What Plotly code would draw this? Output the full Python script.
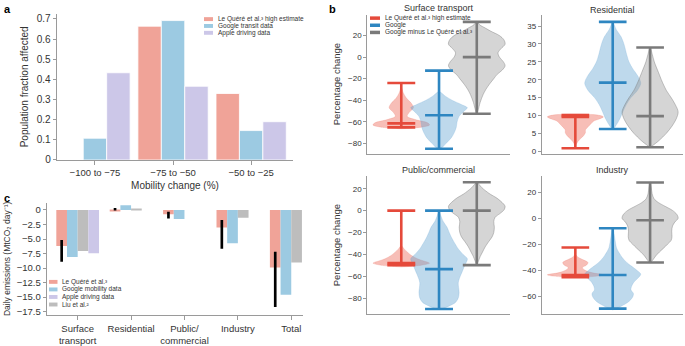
import plotly.graph_objects as go

W, H = 685, 346

# ---------------- panel a data ----------------
mobility_bins = ["−100 to −75", "−75 to −50", "−50 to −25"]
a_lequere = [None, 0.664, 0.330]
a_google = [0.108, 0.692, 0.146]
a_apple = [0.433, 0.366, 0.190]
a_names = ["Le Quéré et al.³ high estimate", "Google transit data", "Apple driving data"]

# ---------------- panel c data ----------------
sectors = ["Surface<br>transport", "Residential", "Public/<br>commercial", "Industry", "Total"]
c_lequere = [-6.2, -0.1, -0.75, -3.03, -9.9]
c_google = [-8.1, 0.8, -1.55, -5.72, -14.6]
c_liu = [-7.07, 0.1, None, -1.35, -9.05]
c_apple = [-7.45, None, None, None, None]
c_lequere_low = [-8.9, 0.05, -1.45, -6.67, -16.7]
c_lequere_high = [-5.15, 0.35, -0.3, -1.73, -7.2]
c_names = ["Le Quéré et al.³", "Google mobility data", "Apple driving data", "Liu et al.²"]

# ---------------- panel b data ----------------
b_titles = ["Surface transport", "Residential", "Public/commercial", "Industry"]
b_names = ["Le Quéré et al.³ high estimate", "Google", "Google minus Le Quéré et al.³"]
# (min, median, max) for Le Quéré, Google, Google minus Le Quéré
st_stats = [(-65.2, -61.5, -24.0), (-85.0, -54.0, -12.5), (-52.5, 0.0, 32.7)]
res_stats = [(0.8, 9.6, 10.1), (6.2, 19.2, 36.2), (1.1, 9.8, 29.0)]
pub_stats = [(-49.8, -48.0, 0.0), (-90.0, -53.5, 0.0), (-49.8, 0.0, 26.0)]
ind_stats = [(-45.3, -43.6, -22.5), (-69.5, -43.7, -7.7), (-34.0, -1.5, 27.5)]

# relative density profiles: (value, relative half-width)
st_red = [(-28, 0), (-33, .07), (-38, .18), (-43, .36), (-47, .43), (-51, .29), (-55, .21),
          (-58, .5), (-61, .93), (-63, 1.0), (-65, .71), (-66.5, 0)]
st_blue = [(-32, 0), (-36, .21), (-40, .46), (-44, .79), (-47, 1.0), (-50, .89), (-55, .71),
           (-60, .64), (-65, .61), (-70, .54), (-75, .43), (-80, .25), (-84, .11), (-86, 0)]
st_grey = [(33, 0), (30, .1), (27, .3), (24, .5), (20, .8), (16, .96), (12, 1.0), (8, .86), (4, .75),
           (0, .8), (-4, .93), (-8, 1.0), (-12, .9), (-16, .72), (-20, .6), (-25, .45), (-30, .32),
           (-35, .22), (-42, .12), (-50, .04), (-53, 0)]
res_red = [(10.4, 0), (10.1, .8), (9.6, 1.0), (9.0, .85), (8.4, .65), (7.6, .55), (6.8, .45),
           (6.0, .36), (5.2, .36), (4.4, .3), (3.6, .2), (2.8, .1), (2.0, .04), (1.2, 0)]
res_blue = [(36, 0), (34, .13), (32, .3), (30, .4), (27, .5), (25, .58), (23, .72), (21, .9),
            (19, 1.0), (17, .88), (15, .65), (13, .48), (11, .36), (9, .25), (7, .1), (6, 0)]
res_grey = [(29, 0), (27, .08), (25, .15), (22, .3), (20, .4), (17, .58), (15, .75), (13, .9),
            (11, 1.0), (9, .93), (7, .78), (5, .58), (3, .32), (1.5, .08), (1, 0)]
pub_red = [(-32, 0), (-35, .1), (-38, .22), (-41, .36), (-44, .57), (-46, .79), (-48, 1.0),
           (-50, .7), (-51.5, 0)]
pub_blue = [(-1, 0), (-5, .07), (-10, .15), (-15, .28), (-20, .36), (-25, .45), (-30, .56),
            (-35, .68), (-40, .85), (-44, 1.0), (-48, .95), (-52, .88), (-57, .8), (-62, .72),
            (-66, .68), (-70, .69), (-75, .71), (-80, .68), (-84, .58), (-87, .38), (-89, .2), (-90.5, 0)]
pub_grey = [(26, 0), (24, .08), (21, .18), (18, .32), (15, .48), (12, .68), (9, .83), (6, .95),
            (4, 1.0), (1, .97), (-2, .85), (-6, .65), (-10, .6), (-15, .62), (-20, .6), (-24, .54),
            (-28, .43), (-33, .3), (-38, .2), (-42, .12), (-46, .06), (-50, 0)]
ind_red = [(-28, 0), (-30, .1), (-32, .28), (-34, .45), (-36, .4), (-38, .25), (-40, .35),
           (-42, .62), (-43.5, 1.0), (-44.5, .8), (-45.5, 0)]
ind_blue = [(-7, 0), (-11, .04), (-15, .07), (-19, .1), (-23, .14), (-27, .24), (-30, .33),
            (-34, .5), (-37, .68), (-40, .86), (-43, 1.0), (-46, .9), (-49, .76), (-52, .68),
            (-55, .65), (-58, .74), (-61, .7), (-64, .58), (-67, .36), (-69, .18), (-70.5, 0)]
ind_grey = [(28, 0), (24, .04), (19, .07), (15, .14), (12, .3), (9, .55), (6, .8), (3, .95),
            (0, 1.0), (-3, .88), (-6, .8), (-10, .77), (-14, .78), (-17, .75), (-20, .62),
            (-23, .48), (-26, .33), (-29, .2), (-32, .1), (-34.5, 0)]

# ---------------- styles ----------------
FONT = "Liberation Sans, Arial, sans-serif"
TXT = "#333333"
AXC = "#9a9a9a"
C_LQ, C_GO, C_AP, C_LIU = "#f0a398", "#9ccae2", "#ccc7e8", "#bdbdbd"
V_LINE = ["#e54a3b", "#2e86c1", "#7a7a7a"]
V_FILL = ["rgba(238,110,95,0.45)", "rgba(100,165,210,0.42)", "rgba(150,150,150,0.40)"]
V_EDGE = ["rgba(238,110,95,0.3)", "rgba(100,165,210,0.3)", "rgba(120,120,120,0.6)"]
VIOLIN_HW = 0.75
CAP_HW = 0.37


def fx(px):
    return px / W


def fy(py):
    return 1 - py / H


fig = go.Figure()

# ---------------- panel a ----------------
xa_pos = list(range(len(mobility_bins)))
for vals, col, nm in zip([a_lequere, a_google, a_apple], [C_LQ, C_GO, C_AP], a_names):
    fig.add_trace(go.Bar(x=xa_pos, y=vals, marker=dict(color=col, line=dict(color="white", width=0.8)),
                         name=nm, showlegend=False, xaxis="x", yaxis="y"))

# ---------------- panel c ----------------
xc_pos = list(range(len(sectors)))
BW = 0.2
for vals, col, nm, off in zip([c_lequere, c_google, c_liu, c_apple], [C_LQ, C_GO, C_LIU, C_AP],
                              [c_names[0], c_names[1], c_names[3], c_names[2]],
                              [-2 * BW, -BW, 0, BW]):
    fig.add_trace(go.Bar(x=xc_pos, y=vals, width=BW, offset=off,
                         marker=dict(color=col, line=dict(width=0)),
                         name=nm, showlegend=False, xaxis="x2", yaxis="y2"))
EW = 0.05
fig.add_trace(go.Bar(x=xc_pos, base=c_lequere_low,
                     y=[h - l for h, l in zip(c_lequere_high, c_lequere_low)],
                     width=EW, offset=-1.5 * BW - EW / 2,
                     marker=dict(color="black", line=dict(width=0)),
                     showlegend=False, xaxis="x2", yaxis="y2"))

# ---------------- panel b ----------------
panels_b = [
    ("x3", "y3", st_stats, [st_red, st_blue, st_grey]),
    ("x4", "y4", res_stats, [res_red, res_blue, res_grey]),
    ("x5", "y5", pub_stats, [pub_red, pub_blue, pub_grey]),
    ("x6", "y6", ind_stats, [ind_red, ind_blue, ind_grey]),
]
for xa, ya, stats, profs in panels_b:
    for i, prof in enumerate(profs):
        c = i + 1
        ys = [p[0] for p in prof]
        ws = [p[1] * VIOLIN_HW for p in prof]
        vx = [c + w for w in ws] + [c - w for w in reversed(ws)]
        vy = ys + ys[::-1]
        fig.add_trace(go.Scatter(x=vx, y=vy, mode="lines", fill="toself", fillcolor=V_FILL[i],
                                 line=dict(color=V_EDGE[i], width=0.7, shape="spline", smoothing=0.9),
                                 hoverinfo="skip", showlegend=False, xaxis=xa, yaxis=ya))
    for i, (mn, md, mx) in enumerate(stats):
        c = i + 1
        wx = [c - CAP_HW, c + CAP_HW, None, c - CAP_HW, c + CAP_HW, None,
              c - CAP_HW, c + CAP_HW, None, c, c]
        wy = [mx, mx, None, md, md, None, mn, mn, None, mn, mx]
        fig.add_trace(go.Scatter(x=wx, y=wy, mode="lines", line=dict(color=V_LINE[i], width=2.6),
                                 name=b_names[i], showlegend=False, hoverinfo="skip",
                                 xaxis=xa, yaxis=ya))

# ---------------- axes ----------------
tickfont_a = dict(family=FONT, size=10, color=TXT)
tickfont_b = dict(family=FONT, size=8, color=TXT)
common = dict(showgrid=False, zeroline=False, showline=True, linecolor=AXC, linewidth=1,
              ticks="outside", tickcolor=AXC, ticklen=3, tickwidth=1)

layout = dict(
    width=W, height=H, margin=dict(l=0, r=0, t=0, b=0),
    paper_bgcolor="white", plot_bgcolor="white",
    barmode="group", bargap=0.1, bargroupgap=0,
    font=dict(family=FONT, color=TXT),
    showlegend=False,
)

layout["xaxis"] = dict(common, domain=[fx(56.7), fx(293.3)], range=[-0.49, 2.54], anchor="y",
                       tickvals=xa_pos, ticktext=mobility_bins, tickfont=dict(family=FONT, size=9.5, color=TXT),
                       ticklen=4,
                       title=dict(text="Mobility change (%)", font=dict(family=FONT, size=10, color=TXT),
                                  standoff=4))
layout["yaxis"] = dict(common, domain=[fy(163.3), fy(14)], range=[0, 0.726], anchor="x",
                       tickvals=[0, 0.1, 0.2, 0.3, 0.4, 0.5, 0.6, 0.7], tickfont=tickfont_a,
                       title=dict(text="Population fraction affected", font=dict(family=FONT, size=10, color=TXT),
                                  standoff=6))

c_ticks = [0, -2.5, -5, -7.5, -10, -12.5, -15, -17.5]
layout["xaxis2"] = dict(common, domain=[fx(46.7), fx(303)], range=[-0.58, 4.22], anchor="y2",
                        tickvals=xc_pos, ticktext=sectors, ticklen=4,
                        tickfont=dict(family=FONT, size=9.5, color=TXT))
layout["yaxis2"] = dict(common, domain=[fy(321.7), fy(206.7)], range=[-18.1, 1.28], anchor="x2",
                        tickvals=c_ticks,
                        ticktext=["0" if v == 0 else f"{v:.1f}".replace("-", "−") for v in c_ticks],
                        tickfont=dict(family=FONT, size=9.5, color=TXT),
                        title=dict(text="Daily emissions (MtCO₂ day⁻¹)",
                                   font=dict(family=FONT, size=8.5, color=TXT), standoff=4))

bx_left = [367.3, 541.7, 367.3, 541.7]
bx_right = [510, 683, 510, 683]
by_top = [15, 15, 180, 180]
by_bot = [156.7, 156.7, 320.3, 320.3]
b_ranges = [[-89.5, 39.4], [-0.66, 38.2], [-94.4, 31.4], [-73.5, 32.2]]
b_ticks = [[-80, -60, -40, -20, 0, 20], [0, 5, 10, 15, 20, 25, 30, 35],
           [-80, -60, -40, -20, 0, 20], [-60, -40, -20, 0, 20]]
for k in range(4):
    n = k + 3
    layout[f"xaxis{n}"] = dict(common, domain=[fx(bx_left[k]), fx(bx_right[k])], range=[0.1, 3.88],
                               anchor=f"y{n}", ticks="", showticklabels=False)
    yd = dict(common, domain=[fy(by_bot[k]), fy(by_top[k])], range=b_ranges[k], anchor=f"x{n}",
              tickvals=b_ticks[k], tickfont=tickfont_b)
    if k in (0, 2):
        yd["title"] = dict(text="Percentage change", font=dict(family=FONT, size=9.5, color=TXT), standoff=5)
    layout[f"yaxis{n}"] = yd

fig.update_layout(**layout)

# ---------------- annotations / manual legends ----------------
ann = []
shapes = []
for lab, px, py in [("a", 2, 1), ("b", 327, 1), ("c", 2, 194)]:
    ann.append(dict(text=f"<b>{lab}</b>", x=fx(px), y=fy(py), xref="paper", yref="paper",
                    xanchor="left", yanchor="top", showarrow=False,
                    font=dict(family=FONT, size=11, color="black")))

b_title_y = [1, 3, 166, 166]
for k in range(4):
    ann.append(dict(text=b_titles[k], x=fx((bx_left[k] + bx_right[k]) / 2), y=fy(b_title_y[k]),
                    xref="paper", yref="paper", xanchor="center", yanchor="top", showarrow=False,
                    font=dict(family=FONT, size=9, color=TXT)))

LEG_FONT = dict(family=FONT, size=6.5, color=TXT)


def add_legend(names, colors, x0, sw, y0, dy, kind):
    for j, (nm, col) in enumerate(zip(names, colors)):
        yc = y0 + j * dy
        if kind == "rect":
            shapes.append(dict(type="rect", xref="paper", yref="paper", x0=fx(x0), x1=fx(x0 + sw),
                               y0=fy(yc + 2), y1=fy(yc - 2), fillcolor=col, line=dict(width=0)))
        else:
            shapes.append(dict(type="line", xref="paper", yref="paper", x0=fx(x0), x1=fx(x0 + sw),
                               y0=fy(yc), y1=fy(yc), line=dict(color=col, width=3.5)))
        ann.append(dict(text=nm, x=fx(x0 + sw + 2.5), y=fy(yc), xref="paper", yref="paper",
                        xanchor="left", yanchor="middle", showarrow=False, font=LEG_FONT))


add_legend(a_names, [C_LQ, C_GO, C_AP], 204, 9, 19.5, 7, "rect")
add_legend(c_names, [C_LQ, C_GO, C_AP, C_LIU], 49, 8.5, 287.7, 7.7, "rect")
add_legend(b_names, V_LINE, 370, 10, 18.5, 7.3, "line")

fig.update_layout(annotations=ann, shapes=shapes)
fig.write_html("out.html")
